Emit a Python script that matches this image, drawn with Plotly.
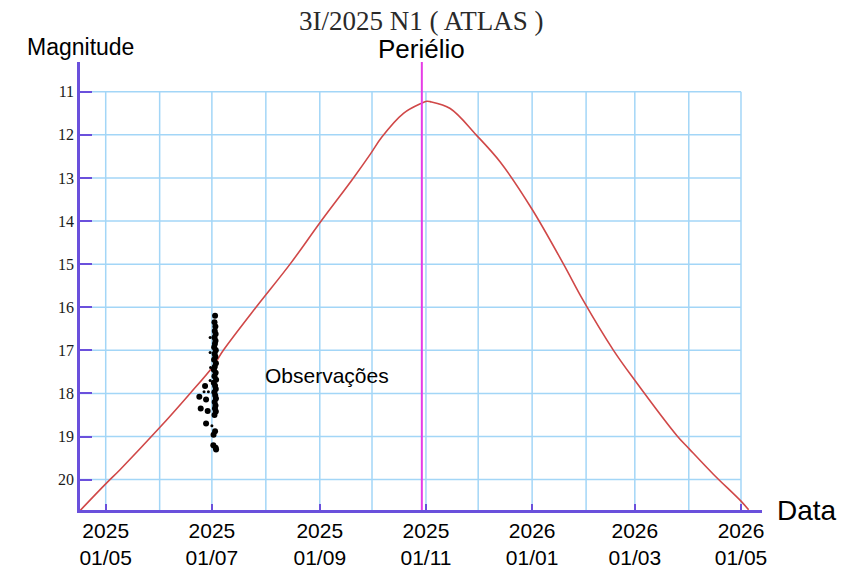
import plotly.graph_objects as go

# ---------------- data ----------------
curve_dates = ["2025-04-16 06:00", "2025-05-01 00:00", "2025-05-09 05:00", "2025-05-31 15:00",
               "2025-06-18 11:00", "2025-07-01 12:00", "2025-07-07 14:00",
               "2025-07-26 09:00", "2025-08-14 22:00", "2025-09-01 14:00",
               "2025-09-20 08:00", "2025-09-30 08:00", "2025-10-06 16:00", "2025-10-19 02:00",
               "2025-10-29 06:00", "2025-11-01 12:00", "2025-11-03 10:00", "2025-11-14 22:00",
               "2025-11-29 20:00", "2025-12-13 16:00", "2025-12-31 21:00", "2026-01-19 01:00",
               "2026-01-30 04:00", "2026-02-16 18:00", "2026-03-01 02:00",
               "2026-03-25 05:00", "2026-04-01 03:00", "2026-04-15 06:00", "2026-05-01 00:00",
               "2026-05-05 09:00"]
curve_mags = [20.72, 20.10, 19.77, 18.81,
              18.00, 17.38, 17.00,
              16.00, 15.00, 14.01,
              13.00, 12.43, 12.05, 11.50,
              11.27, 11.22, 11.23, 11.39,
              12.00, 12.63, 13.72, 15.00,
              15.83, 17.00, 17.70,
              18.98, 19.28, 19.88, 20.50,
              20.70]

obs_dates = ["2025-07-02 20:00", "2025-07-02 12:00", "2025-07-03 00:00", "2025-07-02 16:00",
             "2025-07-03 04:00", "2025-07-02 12:00", "2025-07-03 02:00", "2025-07-02 18:00",
             "2025-07-02 08:00", "2025-07-03 06:00", "2025-07-02 14:00", "2025-07-03 00:00",
             "2025-07-02 06:00", "2025-07-03 08:00", "2025-07-02 16:00", "2025-07-02 04:00",
             "2025-07-03 04:00", "2025-07-02 12:00", "2025-07-03 10:00", "2025-07-02 02:00",
             "2025-07-02 20:00", "2025-07-03 06:00", "2025-07-02 10:00", "2025-07-02 22:00",
             "2025-07-03 08:00", "2025-07-02 14:00", "2025-07-03 02:00", "2025-07-02 18:00",
             "2025-07-03 06:00", "2025-07-02 12:00",
             "2025-07-02 20:00", "2025-07-01 23:00", "2025-07-01 20:00", "2025-07-03 10:00",
             "2025-07-03 04:00",
             "2025-06-27 02:00", "2025-06-23 19:00", "2025-06-27 16:00", "2025-06-24 14:00",
             "2025-06-28 14:00", "2025-06-27 16:00"]
obs_mags = [16.20, 16.35, 16.45, 16.55,
            16.62, 16.70, 16.78, 16.85,
            16.93, 17.00, 17.08, 17.15,
            17.22, 17.30, 17.38, 17.45,
            17.52, 17.60, 17.68, 17.75,
            17.82, 17.90, 17.97, 18.05,
            18.12, 18.20, 18.28, 18.35,
            18.42, 18.50,
            18.88, 18.96, 19.20, 19.30,
            19.26,
            17.83, 18.08, 18.14, 18.35,
            18.41, 18.70]

small_dates = ["2025-06-30 00:00", "2025-06-30 00:00", "2025-06-30 06:00", "2025-06-30 00:00",
               "2025-06-26 12:00", "2025-06-29 00:00", "2025-07-01 00:00"]
small_mags = [16.70, 17.05, 17.40, 17.70, 17.96, 17.96, 18.75]

perihelion = "2025-10-29 15:00"
month_lines = ["2025-05-01", "2025-06-01", "2025-07-01", "2025-08-01", "2025-09-01",
               "2025-10-01", "2025-11-01", "2025-12-01", "2026-01-01", "2026-02-01",
               "2026-03-01", "2026-04-01", "2026-05-01"]
x_tick_vals = ["2025-05-01", "2025-07-01", "2025-09-01", "2025-11-01",
               "2026-01-01", "2026-03-01", "2026-05-01"]
x_tick_text = ["2025<br>01/05", "2025<br>01/07", "2025<br>01/09", "2025<br>01/11",
               "2026<br>01/01", "2026<br>01/03", "2026<br>01/05"]
y_ticks = [11, 12, 13, 14, 15, 16, 17, 18, 19, 20]

# ---------------- style ----------------
X_RANGE = ["2025-04-16 05:30", "2026-05-13 01:40"]
Y_RANGE = [20.705, 10.31]
GRID = "#a3d6f7"
AXIS = "#6a50dc"

fig = go.Figure()
fig.add_trace(go.Scatter(x=curve_dates, y=curve_mags, mode="lines",
                         line=dict(color="#d04848", width=1.6, shape="spline", smoothing=1.0),
                         hoverinfo="skip", showlegend=False))
fig.add_trace(go.Scatter(x=small_dates, y=small_mags, mode="markers",
                         marker=dict(color="black", size=3), showlegend=False))
fig.add_trace(go.Scatter(x=obs_dates, y=obs_mags, mode="markers",
                         marker=dict(color="black", size=6), showlegend=False))

shapes = []
for m in y_ticks:
    shapes.append(dict(type="line", xref="x", yref="y", x0=X_RANGE[0], x1=month_lines[-1],
                       y0=m, y1=m, line=dict(color=GRID, width=1.5), layer="below"))
for d in month_lines:
    shapes.append(dict(type="line", xref="x", yref="y", x0=d, x1=d,
                       y0=y_ticks[0], y1=Y_RANGE[0], line=dict(color=GRID, width=1.5), layer="below"))
shapes.append(dict(type="line", xref="x", yref="y", x0=perihelion, x1=perihelion,
                   y0=Y_RANGE[1], y1=Y_RANGE[0], line=dict(color="#e63ce6", width=2), layer="above"))

sans = "Liberation Sans, Arial, sans-serif"
annotations = [
    dict(text="3I/2025 N1 ( ATLAS )", xref="paper", yref="paper", x=(421 - 80) / 681.7,
         y=(510 - 21) / 448, xanchor="center", yanchor="middle", showarrow=False,
         font=dict(family="Liberation Serif, Times New Roman, serif", size=27, color="#2a2a2a")),
    dict(text="Magnitude", xref="paper", yref="paper", x=(25 - 80) / 681.7, y=(510 - 47) / 448,
         xanchor="left", yanchor="middle", showarrow=False, font=dict(family=sans, size=23, color="black")),
    dict(text="Periélio", xref="x", yref="paper", x=perihelion, y=(510 - 49) / 448,
         xanchor="center", yanchor="middle", showarrow=False, font=dict(family=sans, size=26, color="black")),
    dict(text="Observações", xref="paper", yref="paper", x=(263 - 80) / 681.7, y=(510 - 375) / 448,
         xanchor="left", yanchor="middle", showarrow=False, font=dict(family=sans, size=21, color="black")),
    dict(text="Data", xref="paper", yref="paper", x=(775 - 80) / 681.7, y=0,
         xanchor="left", yanchor="middle", showarrow=False, font=dict(family=sans, size=28, color="black")),
]

fig.update_layout(
    width=842, height=568, autosize=False,
    margin=dict(l=80, r=80, t=62, b=58, pad=0),
    paper_bgcolor="white", plot_bgcolor="white",
    showlegend=False, shapes=shapes, annotations=annotations,
    xaxis=dict(type="date", range=X_RANGE, showgrid=False, zeroline=False, automargin=False,
               showline=True, linecolor=AXIS, linewidth=2.5,
               tickmode="array", tickvals=x_tick_vals, ticktext=x_tick_text,
               ticks="inside", ticklen=6, tickwidth=2, tickcolor=AXIS,
               tickfont=dict(family=sans, size=21, color="black")),
    yaxis=dict(range=Y_RANGE, showgrid=False, zeroline=False, automargin=False,
               showline=True, linecolor=AXIS, linewidth=2.5,
               tickmode="array", tickvals=y_ticks, ticks="inside", ticklen=12,
               tickwidth=2, tickcolor=AXIS,
               tickfont=dict(family="Liberation Serif, Times New Roman, serif", size=16, color="#1a1a1a")),
)

fig.write_html("out.html")
